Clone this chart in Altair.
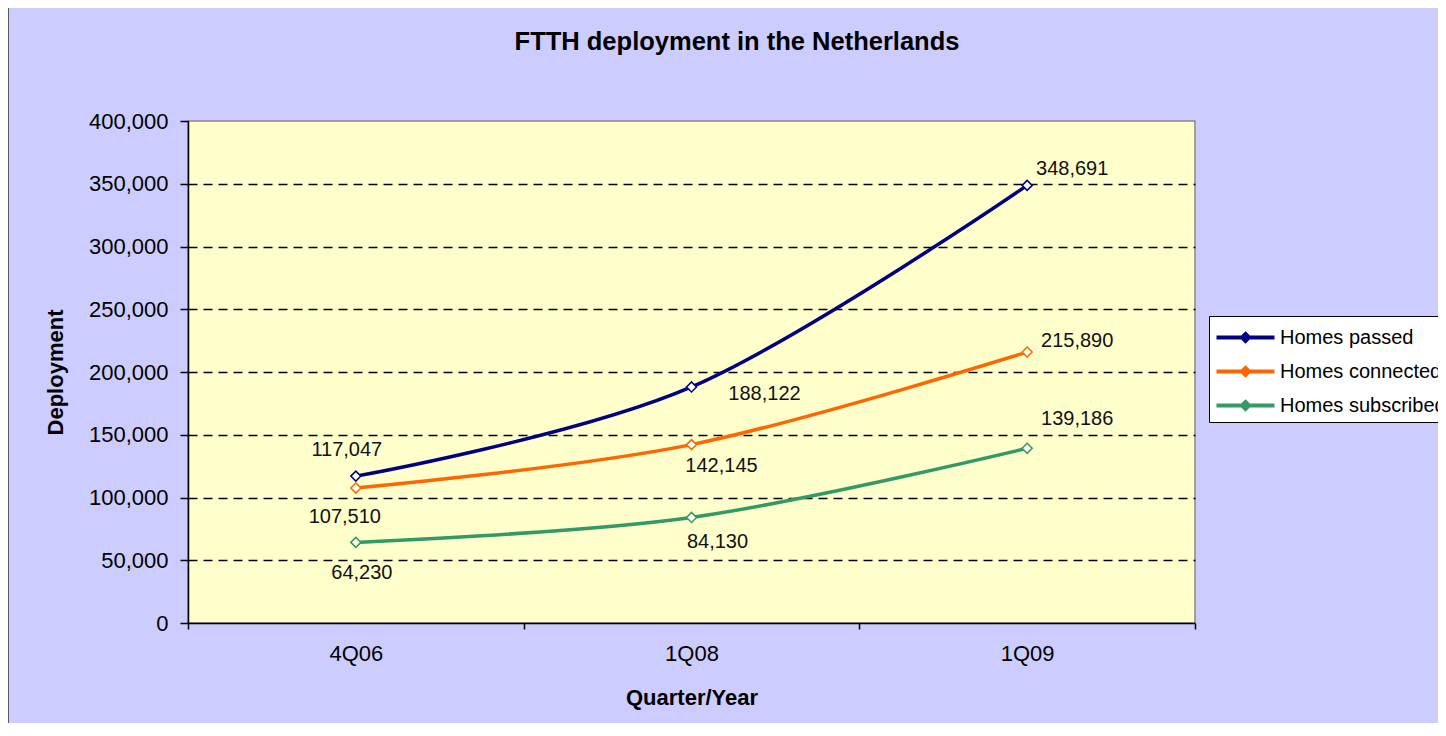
import altair as alt
import pandas as pd

quarters = ["4Q06", "1Q08", "1Q09"]
series_names = ["Homes passed", "Homes connected", "Homes subscribed"]
homes_passed = [117047, 188122, 348691]
homes_connected = [107510, 142145, 215890]
homes_subscribed = [64230, 84130, 139186]
series_colors = ["#000080", "#ff6600", "#339966"]
chart_title = "FTTH deployment in the Netherlands"

rows = []
for name, vals in zip(series_names, [homes_passed, homes_connected, homes_subscribed]):
    for q, v in zip(quarters, vals):
        rows.append({"Quarter": q, "Series": name, "value": v})
df = pd.DataFrame(rows)

# label offsets (style only): (series, quarter) -> (dx, dy)
label_offsets = {
    ("Homes passed", "4Q06"): (-9, -26),
    ("Homes connected", "4Q06"): (-11, 29),
    ("Homes subscribed", "4Q06"): (6, 31),
    ("Homes passed", "1Q08"): (73, 7),
    ("Homes connected", "1Q08"): (30, 21),
    ("Homes subscribed", "1Q08"): (26, 25),
    ("Homes passed", "1Q09"): (45, -16),
    ("Homes connected", "1Q09"): (50, -11),
    ("Homes subscribed", "1Q09"): (50, -29),
}

FONT = "Liberation Sans"

x_enc = alt.X(
    "Quarter:N",
    sort=quarters,
    scale=alt.Scale(paddingInner=0, paddingOuter=0),
    axis=alt.Axis(
        title="Quarter/Year",
        labelAngle=0,
        tickBand="extent",
        tickSize=6,
        labelPadding=14,
        labelFontSize=22,
        titleFontSize=22,
        titleFontWeight="bold",
        titleY=74,
        titleBaseline="middle",
        grid=False,
    ),
)
y_enc = alt.Y(
    "value:Q",
    scale=alt.Scale(domain=[0, 400000]),
    axis=alt.Axis(
        title="Deployment",
        values=list(range(0, 400001, 50000)),
        labelExpr="format(datum.value, ',')",
        tickSize=8,
        labelPadding=12,
        labelFontSize=22,
        titleFontSize=22,
        titleFontWeight="bold",
        titleX=-133,
        titleBaseline="middle",
        grid=True,
        gridDash=[9, 6],
        gridColor="black",
        gridWidth=1.3,
        gridOpacity={"condition": {"test": "datum.value === 400000 || datum.value === 0", "value": 0}, "value": 1},
    ),
)
color_scale = alt.Scale(domain=series_names, range=series_colors)

base = alt.Chart(df)

lines = base.mark_line(interpolate="cardinal", strokeWidth=3.5).encode(
    x=x_enc,
    y=y_enc,
    color=alt.Color(
        "Series:N",
        scale=color_scale,
        sort=series_names,
        legend=alt.Legend(
            title=None,
            orient="none",
            legendX=1021,
            legendY=195,
            fillColor="white",
            strokeColor="black",
            padding=5,
            labelFontSize=20,
            labelFont=FONT,
            labelColor="black",
            labelLimit=0,
            symbolType="M-2,0H2M0,-0.24L0.24,0L0,0.24L-0.24,0Z",
            symbolSize=841,
            symbolOffset=15,
            symbolStrokeWidth=4,
            symbolFillColor="white",
            labelOffset=18,
            rowPadding=6,
        ),
    ),
)

points = base.mark_point(shape="diamond", size=100, filled=False, fill="#ffffee", strokeWidth=1.5, opacity=1).encode(
    x=alt.X("Quarter:N", sort=quarters),
    y=alt.Y("value:Q"),
    color=alt.Color("Series:N", scale=color_scale, legend=None),
)

label_layers = []
for (s, q), (dx, dy) in label_offsets.items():
    label_layers.append(
        base.transform_filter(
            (alt.datum.Series == s) & (alt.datum.Quarter == q)
        ).mark_text(dx=dx, dy=dy, fontSize=20, font=FONT, color="#111111").encode(
            x=alt.X("Quarter:N", sort=quarters),
            y=alt.Y("value:Q"),
            text=alt.Text("value:Q", format=","),
        )
    )

deco = alt.Data(values=[{"t": chart_title}])

border = alt.Chart(deco).mark_rect(
    fill=None, stroke="#333333", strokeWidth=1.5
).encode(
    x=alt.value(-180), x2=alt.value(1400), y=alt.value(-114), y2=alt.value(800)
)

title_text = alt.Chart(deco).mark_text(
    fontSize=25.5, fontWeight="bold", font=FONT, color="black", baseline="middle", align="center",
).encode(
    x=alt.value(549), y=alt.value(-79), text="t:N"
)

chart = alt.layer(border, title_text, lines, points, *label_layers).properties(
    width=1007,
    height=502,
    background="#ccccff",
    padding={"left": 180, "top": 113, "right": 243, "bottom": 100},
    autosize=alt.AutoSizeParams(type="none"),
).configure_view(
    fill="#ffffcc", stroke="#888888", strokeWidth=1.5
).configure_axis(
    labelFont=FONT,
    titleFont=FONT,
    labelColor="black",
    titleColor="black",
    domainColor="black",
    domainWidth=1.5,
    tickColor="black",
    tickWidth=1.5,
)

chart.save("out.html", embed_options={"renderer": "svg", "actions": False})
